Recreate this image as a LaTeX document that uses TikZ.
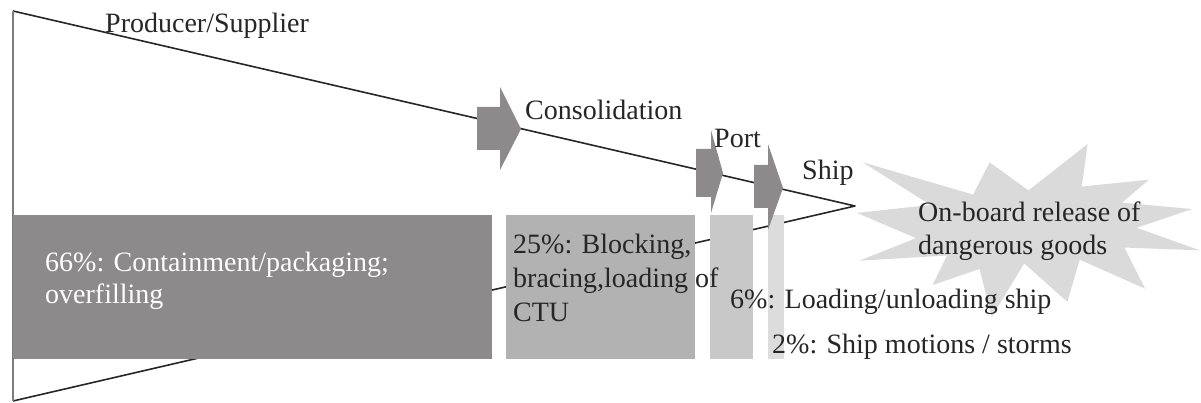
\documentclass[tikz,border=0pt]{standalone}
\usepackage{fontspec}
\setmainfont{Liberation Serif}
\definecolor{cA}{HTML}{8C8A8B}
\definecolor{cB}{HTML}{B2B2B2}
\definecolor{cC}{HTML}{C8C8C8}
\definecolor{cD}{HTML}{DCDCDC}
\definecolor{cStar}{HTML}{DADADA}
\definecolor{txt}{HTML}{262626}
\definecolor{edge}{HTML}{262626}
\begin{document}
\begin{tikzpicture}[x=1pt,y=-1pt,
  tri/.style={draw=edge, line width=1.6pt, line join=round},
  vline/.style={draw=cA!90!black, line width=2.4pt},
  blockarrow/.style={fill=cA, draw=none},
  lbl/.style={font=\fontsize{28}{32}\selectfont, inner sep=0pt, anchor=base west, text=txt}]
\useasboundingbox (0,0) rectangle (1201,403);
% funnel
\coordinate (tl) at (13,11);
\coordinate (bl) at (13,401);
\coordinate (apex) at (855,206);
\draw[tri] (tl) -- (apex) -- (bl);
\draw[vline] (tl) -- (bl);
% share boxes
\fill[cA] (13,215) rectangle (492,359);
\fill[cB] (506,215) rectangle (695,359);
\fill[cC] (710,215) rectangle (753,359);
\fill[cD] (768,215) rectangle (784,359);
% block arrows
\fill[blockarrow] (477,107) -- (500,107) -- (500,87) -- (521,129) -- (500,170) -- (500,150) -- (477,150) -- cycle;
\fill[blockarrow] (696,149) -- (711,149) -- (711,130) -- (723,173) -- (711,213) -- (711,197) -- (696,197) -- cycle;
\fill[blockarrow] (754,165) -- (768,165) -- (768,144) -- (783,188) -- (768,230) -- (768,208) -- (754,208) -- cycle;
% explosion
\begin{scope}[shift={(857,144)}, xscale=1.588, yscale=0.8]
\fill[cStar] (108,58) -- (145.22,0) -- (141.55,53.25) -- (183.80,44.57) -- (167.02,73.15) -- (210.97,81.37) -- (176.07,104.75) -- (216,132.90) -- (168.37,129.42) -- (181.45,180.95) -- (140.20,144.57) -- (132.47,197.37) -- (105.32,149.35) -- (84.85,216) -- (77.15,156.27) -- (47.62,176.17) -- (56.67,139.37) -- (1.35,145.87) -- (37.22,117.75) -- (0,86.15) -- (46.27,76.17) -- (3.70,22.95) -- (73.12,63.20) -- (83.52,22.95) -- cycle;
\end{scope}
% labels
\node[lbl] (prod) at (105,33) {Producer/Supplier};
\node[lbl] (cons) at (525,120) {Consolidation};
\node[lbl] (port) at (714,148) {Port};
\node[lbl] (ship) at (802,180) {Ship};
\node[lbl, text=white] (t66) at (45,272) {\vtop{\baselineskip=32pt\hbox{66\%: Containment/packaging;}\hbox{overfilling}}};
\node[lbl] (t25) at (513,254) {\vtop{\baselineskip=34pt\hbox{25\%: Blocking,}\hbox{bracing,loading of}\hbox{CTU}}};
\node[lbl] (t6) at (730,308) {6\%: Loading/unloading ship};
\node[lbl] (t2) at (772,353) {2\%: Ship motions / storms};
\node[lbl] (rel) at (918,222) {\vtop{\baselineskip=33pt\hbox{On-board release of}\hbox{dangerous goods}}};
\end{tikzpicture}
\end{document}
